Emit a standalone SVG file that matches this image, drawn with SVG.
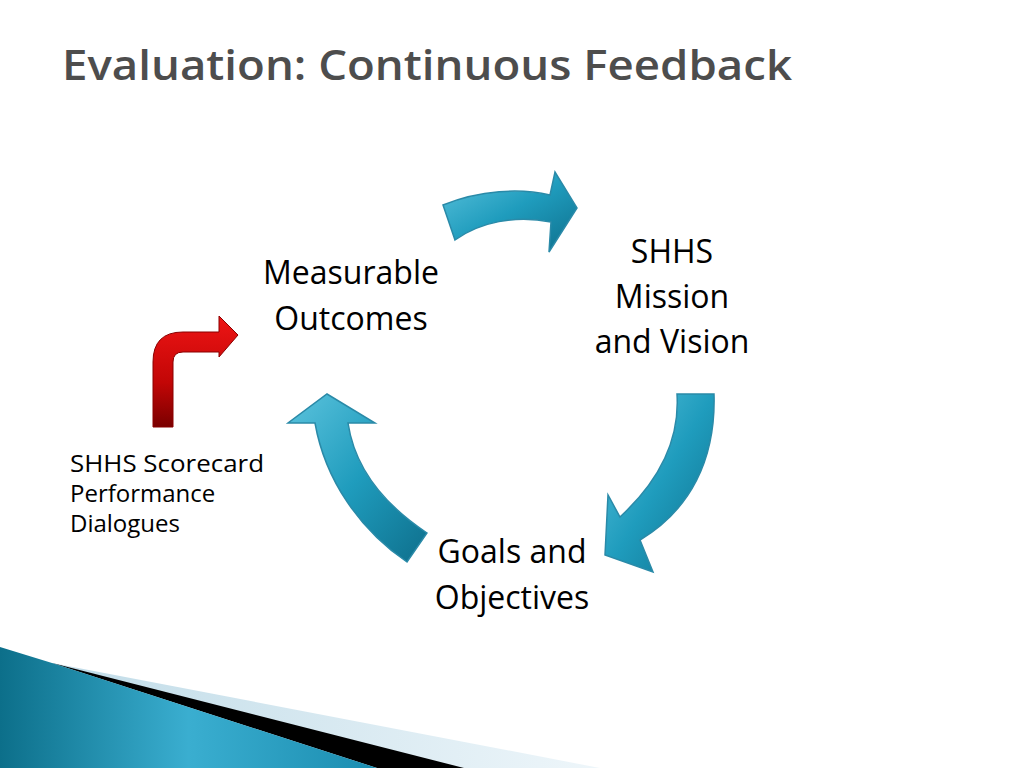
<svg xmlns="http://www.w3.org/2000/svg" width="1024" height="768" viewBox="0 0 1024 768">
<defs>
<linearGradient id="teal" x1="0" y1="0" x2="1" y2="1">
<stop offset="0" stop-color="#5cc3dd"/><stop offset="0.5" stop-color="#1f9cbd"/><stop offset="1" stop-color="#0e6f8c"/>
</linearGradient>
<linearGradient id="red" x1="0" y1="0" x2="0" y2="1">
<stop offset="0" stop-color="#ee1515"/><stop offset="0.6" stop-color="#c20606"/><stop offset="1" stop-color="#7a0000"/>
</linearGradient>
<linearGradient id="band" x1="0" y1="0" x2="1" y2="0">
<stop offset="0" stop-color="#0c6f8a"/><stop offset="0.5" stop-color="#3aaed0"/><stop offset="1" stop-color="#1b8db0"/>
</linearGradient>
<linearGradient id="light" x1="0" y1="0" x2="1" y2="0">
<stop offset="0" stop-color="#bcd9e6"/><stop offset="1" stop-color="#eef6fa"/>
</linearGradient>
<style>
.lbl{font-family:"Open Sans","DejaVu Sans",sans-serif;font-size:32px;fill:#000;text-anchor:middle}
.sm{font-family:"Open Sans","DejaVu Sans",sans-serif;font-size:24px;fill:#000}
.arr{fill:url(#teal);stroke:#2a8aa8;stroke-width:1.5}
</style>
</defs>
<rect width="1024" height="768" fill="#fff"/>
<g id="decor">
<polygon points="52,663 600,768 0,768" fill="url(#light)"/>
<polygon points="52,663 464,768 377,768" fill="#000"/>
<polygon points="0,647 52,663 377,768 0,768" fill="url(#band)"/>
</g>
<text x="62" y="80" font-family="Open Sans, DejaVu Sans, sans-serif" font-size="41" font-weight="600" fill="#4d4d4d" textLength="730" lengthAdjust="spacingAndGlyphs">Evaluation: Continuous Feedback</text>
<g id="connectors">
<path class="arr" d="M443,205 C480,190 520,188 550,195 L555,172 L577,208 L549,252 L551,222 C515,215 480,222 455,240 Z"/>
<path class="arr" d="M677,394 L714,394 C716,460 690,510 640,540 L653,572 L605,555 L608,495 L620,517 C660,480 680,440 677,394 Z"/>
<path class="arr" d="M327,394 L375,423 L348,423 C355,470 385,505 427,533 L407,562 C360,530 325,480 315,423 L288,423 Z"/>
<path d="M153,427 L153,362 Q153,332 183,332 L219,332 L219,316 L238,335 L219,357 L219,352 L183,352 Q173,352 173,362 L173,427 Z" fill="url(#red)" stroke="#8a0000" stroke-width="1"/>
</g>
<g id="measurable"><text class="lbl" x="351" y="284">Measurable</text><text class="lbl" x="351" y="330">Outcomes</text></g>
<g id="mission"><text class="lbl" x="672" y="263">SHHS</text><text class="lbl" x="672" y="308">Mission</text><text class="lbl" x="672" y="353">and Vision</text></g>
<g id="goals"><text class="lbl" x="512" y="563">Goals and</text><text class="lbl" x="512" y="609">Objectives</text></g>
<g id="scorecard"><text class="sm" x="70" y="472" textLength="194" lengthAdjust="spacingAndGlyphs">SHHS Scorecard</text><text class="sm" x="70" y="502">Performance</text><text class="sm" x="70" y="532">Dialogues</text></g>
</svg>
